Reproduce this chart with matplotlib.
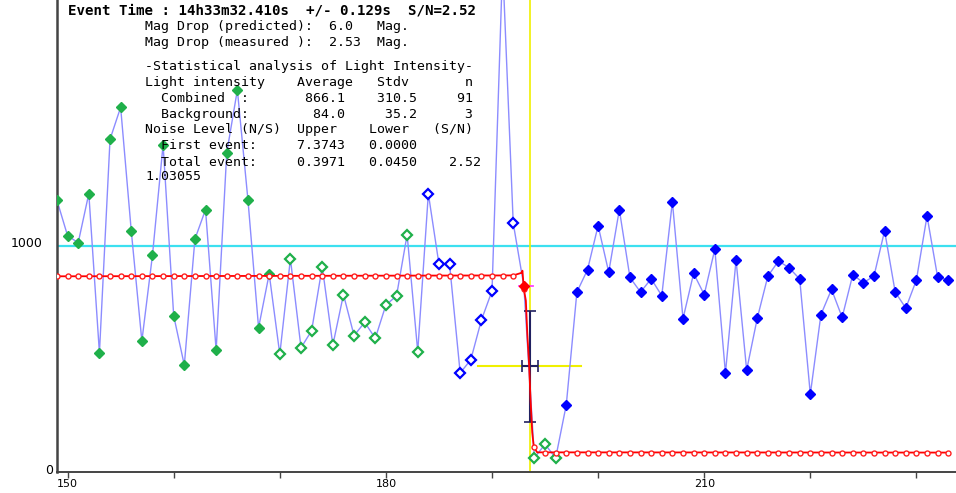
import numpy as np
import matplotlib.pyplot as plt

# frame number and measured light intensity
frames = np.arange(149, 234)
intensity = [1203, 1046, 1015, 1233, 526, 1474, 1616, 1068, 579, 960,
             1450, 691, 472, 1031, 1162, 538, 1414, 1693, 1204, 638,
             877, 520, 944, 549, 625, 909, 561, 785, 603, 662,
             591, 739, 779, 1051, 532, 1233, 920, 919, 437, 496,
             672, 801, 2250, 1102, 824, 61, 121, 60, 296, 796,
             895, 1091, 884, 1162, 861, 796, 855, 780, 1197, 678,
             879, 785, 986, 436, 938, 450, 680, 867, 934, 904,
             854, 343, 696, 808, 684, 873, 838, 867, 1068, 796,
             725, 850, 1134, 862, 850]

# marker groups (first frame, last frame)
green_filled = (149, 169)
green_open = [(170, 183), (194, 196)]
blue_open = (184, 192)
red_point = 193
blue_filled = (197, 233)

# fitted model: fine curve and model value at each frame
model_x = [149, 192, 192.75, 192.87, 193.0, 193.19, 193.32, 193.5, 193.63, 193.79, 193.94, 194.26, 233]
model_y = [866.1, 870, 881, 891, 810, 758, 618, 469, 322, 174, 107, 85, 84.0]
model_pts = [866.1] * 44 + [810, 107] + [84.0] * 39

event_x = 193.54
event_err = 0.75
half_level = 466
y_err = 248
level_span = (188.66, 198.41)
magenta_span = (192.5, 193.9)
ref_level = 1000

x_ticks = list(range(150, 240, 10))
x_tick_labels = ['150', '', '', '180', '', '', '210', '', '']

frames = np.array(frames)
intensity = np.array(intensity)

W, H = 956, 493
fig = plt.figure(figsize=(W / 100, H / 100), dpi=100)
ax = fig.add_axes([57.3 / W, (H - 472.3) / H, 1 - 57.3 / W, 472.3 / H])
ax.set_xlim(149.03, 233.73)
ax.set_ylim(-3.5, 2092)

ax.axhline(ref_level, color='#3ce0f0', lw=1.6, zorder=1)
ax.axvline(event_x, color='#f0f000', lw=1.2, zorder=1)
ax.plot(level_span, [half_level, half_level], color='#f0f000', lw=1.5, zorder=1)

ax.plot(frames, intensity, color='#8c8cff', lw=1, zorder=2)


def sel(rng):
    m = (frames >= rng[0]) & (frames <= rng[1])
    return frames[m], intensity[m]


gx, gy = sel(green_filled)
ax.plot(gx, gy, 'D', color='#1fb04a', ms=5.5, mec='#1fb04a', zorder=3)
for r in green_open:
    ox, oy = sel(r)
    ax.plot(ox, oy, 'D', mfc='white', mec='#1fb04a', ms=4.6, mew=1.6, zorder=3)
bx, by = sel(blue_open)
ax.plot(bx, by, 'D', mfc='white', mec='#0000ff', ms=4.6, mew=1.6, zorder=3)
fx, fy = sel(blue_filled)
ax.plot(fx, fy, 'D', color='#0000ff', ms=5.5, zorder=3)

ax.errorbar([event_x], [half_level], xerr=event_err, yerr=y_err, fmt='none',
            ecolor='#202060', elinewidth=1.5, capsize=4, capthick=1.2, zorder=4)

ax.plot(model_x, model_y, color='#ff0000', lw=1.3, zorder=5)
ax.plot(frames, model_pts, 'o', mfc='white', mec='#ff2020', ms=3.6, mew=1, zorder=5)

ry = intensity[frames == red_point][0]
ax.plot(magenta_span, [ry, ry], color='#ff40ff', lw=1.3, zorder=6)
ax.plot([red_point], [ry], 'D', color='#ff0000', ms=5.5, zorder=6)

for s in ['top', 'right']:
    ax.spines[s].set_visible(False)
ax.spines['left'].set_color('#444444')
ax.spines['left'].set_linewidth(1.8)
ax.spines['bottom'].set_color('#444444')
ax.spines['bottom'].set_linewidth(1.4)

ax.set_xticks(x_ticks)
ax.set_xticklabels(x_tick_labels)
ax.tick_params(axis='x', length=4.5, width=1, color='#444444', labelsize=8, pad=0.5)
ax.set_yticks([])

ax.annotate('1000', xy=(0, ref_level), xycoords=('axes fraction', 'data'),
            xytext=(-10.3, 2), textcoords='offset points', ha='right', va='center', fontsize=9)
ax.annotate('0', xy=(0, 0), xycoords=('axes fraction', 'data'),
            xytext=(-3.3, 1), textcoords='offset points', ha='right', va='center', fontsize=9)

mono = 'DejaVu Sans Mono'
fig.text(68 / W, 1 - 10.7 / H, 'Event Time : 14h33m32.410s  +/- 0.129s  S/N=2.52',
         family=mono, weight='bold', fontsize=10.2, va='center', ha='left')

lines = [
    (26.7, 'Mag Drop (predicted):  6.0   Mag.'),
    (42.3, 'Mag Drop (measured ):  2.53  Mag.'),
    (66.7, '-Statistical analysis of Light Intensity-'),
    (82.3, 'Light intensity    Average   Stdv       n'),
    (98.3, '  Combined  :       866.1    310.5     91'),
    (114.3, '  Background:        84.0     35.2      3'),
    (130.0, 'Noise Level (N/S)  Upper    Lower   (S/N)'),
    (145.7, '  First event:     7.3743   0.0000'),
    (162.3, '  Total event:     0.3971   0.0450    2.52'),
    (176.7, '1.03055'),
]
for y, s in lines:
    fig.text(145 / W, 1 - y / H, s, family=mono, fontsize=9.5, va='center', ha='left', zorder=10)

fig.savefig('out.png', dpi=100)
